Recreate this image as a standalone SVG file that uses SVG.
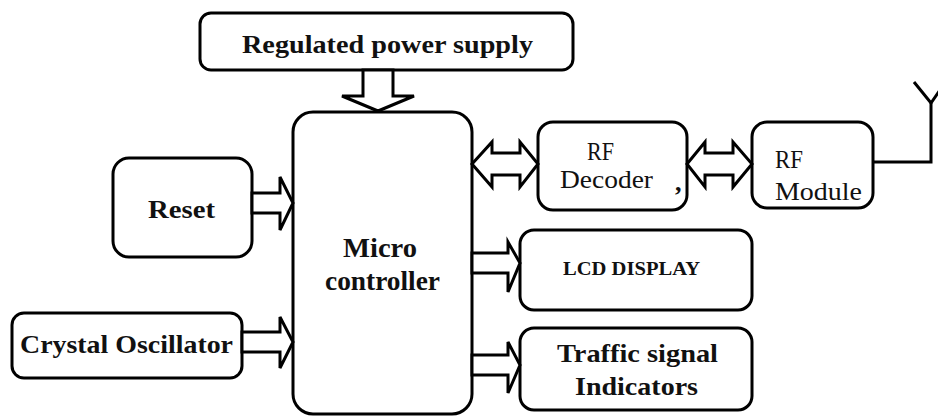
<svg xmlns="http://www.w3.org/2000/svg" width="938" height="417" viewBox="0 0 938 417">
<style>
.box{fill:#fff;stroke:#000;stroke-width:3}
.arr{fill:#fff;stroke:#000;stroke-width:3;stroke-linejoin:miter}
.ln{fill:none;stroke:#000;stroke-width:3}
.b{font-family:"Liberation Serif","Times New Roman",serif;font-weight:bold;fill:#111}
.r{font-family:"Liberation Serif","Times New Roman",serif;fill:#111}
</style>
<rect x="0" y="0" width="938" height="417" fill="#fff"/>
<g id="power">
<rect class="box" x="200" y="13" width="373" height="57" rx="11"/>
<text class="b" x="242" y="53" font-size="26" textLength="291" lengthAdjust="spacingAndGlyphs">Regulated power supply</text>
</g>
<g id="micro">
<rect class="box" x="293" y="112" width="179" height="302" rx="20"/>
<text class="b" x="343" y="257" font-size="27" textLength="74" lengthAdjust="spacingAndGlyphs">Micro</text>
<text class="b" x="325" y="290" font-size="27" textLength="115" lengthAdjust="spacingAndGlyphs">controller</text>
</g>
<g id="reset">
<rect class="box" x="113" y="158" width="139" height="99" rx="16"/>
<text class="b" x="148" y="218" font-size="26" textLength="67" lengthAdjust="spacingAndGlyphs">Reset</text>
</g>
<g id="crystal">
<rect class="box" x="12" y="313" width="230" height="65" rx="12"/>
<text class="b" x="20" y="353" font-size="26" textLength="213" lengthAdjust="spacingAndGlyphs">Crystal Oscillator</text>
</g>
<g id="rfdecoder">
<rect class="box" x="538" y="122" width="149" height="88" rx="15"/>
<text class="r" x="587" y="160" font-size="25" textLength="27" lengthAdjust="spacingAndGlyphs">RF</text>
<text class="r" x="560" y="188" font-size="25" textLength="93" lengthAdjust="spacingAndGlyphs">Decoder</text>
<text class="b" x="675" y="191" font-size="26">,</text>
</g>
<g id="rfmodule">
<rect class="box" x="752" y="122" width="121" height="86" rx="15"/>
<text class="r" x="775" y="168" font-size="26" textLength="28" lengthAdjust="spacingAndGlyphs">RF</text>
<text class="r" x="775" y="200" font-size="26" textLength="87" lengthAdjust="spacingAndGlyphs">Module</text>
</g>
<g id="lcd">
<rect class="box" x="520" y="230" width="232" height="80" rx="14"/>
<text class="b" x="563" y="275" font-size="18" textLength="137" lengthAdjust="spacingAndGlyphs">LCD DISPLAY</text>
</g>
<g id="traffic">
<rect class="box" x="520" y="328" width="232" height="82" rx="14"/>
<text class="b" x="557" y="362" font-size="25" textLength="161" lengthAdjust="spacingAndGlyphs">Traffic signal</text>
<text class="b" x="575" y="395" font-size="25" textLength="123" lengthAdjust="spacingAndGlyphs">Indicators</text>
</g>
<g id="connectors">
<polygon class="arr" points="363,70 363,96 342,96 378,111 414,96 393,96 393,70"/>
<polygon class="arr" points="252,193 280,193 280,177 293,203 280,230 280,213 252,213"/>
<polygon class="arr" points="242,332 280,332 280,317 293,342 280,368 280,352 242,352"/>
<polygon class="arr" points="472,253 508,253 508,242 520,263 508,292 508,273 472,273"/>
<polygon class="arr" points="472,355 508,355 508,342 520,365 508,393 508,375 472,375"/>
<polygon class="arr" points="472,164 492,142 492,153 520,153 520,142 538,164 520,187 520,175 492,175 492,187"/>
<polygon class="arr" points="687,164 705,142 705,153 733,153 733,142 752,164 733,187 733,175 705,175 705,187"/>
<polyline class="ln" points="873,162 931,162 931,103"/>
<polyline class="ln" points="914,82 931,103 940,90"/>
</g>
</svg>
